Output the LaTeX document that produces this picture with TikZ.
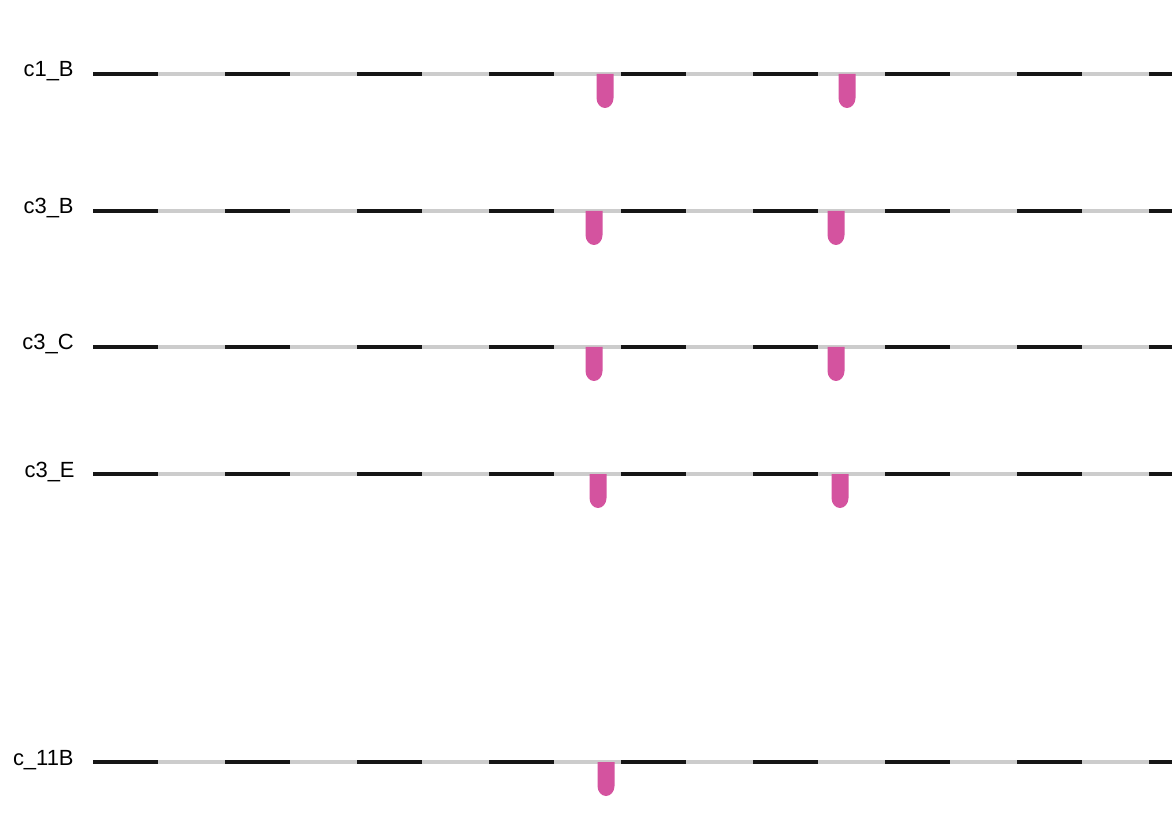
\documentclass[tikz,border=0pt]{standalone}
\usepackage{fontspec}
\setmainfont{Liberation Sans}
\definecolor{blockblack}{HTML}{161616}
\definecolor{backbonegray}{HTML}{CCCCCC}
\definecolor{sitepink}{HTML}{D4539F}
\tikzset{
  rowlabel/.style={
    anchor=base east,
    inner sep=0pt,
    text=black,
    font=\fontsize{12.5}{15}\selectfont,
  },
  backbone/.style={
    draw=backbonegray,
    line width=1.8pt,
  },
  block/.style={
    draw=blockblack,
    line width=2.2pt,
  },
  site/.style={
    fill=sitepink,
  },
}

\begin{document}
\begin{tikzpicture}[x=0.02cm,y=-0.02cm]
  \useasboundingbox (0,0) rectangle (1172,820);

  % Row labels.
  \node[rowlabel] (lc1B)  at (74, 77) {c1\_B};
  \node[rowlabel] (lc3B)  at (74,214) {c3\_B};
  \node[rowlabel] (lc3C)  at (74,350) {c3\_C};
  \node[rowlabel] (lc3E)  at (75,477) {c3\_E};
  \node[rowlabel] (lc11B) at (74,765) {c\_11B};

  % Tracks: grey backbone with regular black blocks.
  \foreach \y/\row in {74/c1B,211/c3B,347/c3C,474/c3E,762/c11B}{
    \coordinate (\row-start) at (93,\y);
    \coordinate (\row-end) at (1172,\y);
    \draw[backbone] (\row-start) -- (\row-end);
    \foreach \i in {0,...,8}{
      \pgfmathsetmacro{\bx}{93+132*\i}
      \pgfmathsetmacro{\ex}{min(\bx+65,1172)}
      \draw[block] (\bx,\y) -- (\ex,\y);
    }
  }

  % Sites hanging below each track.
  \foreach \y/\sites in {74/{605,847},211/{594,836},347/{594,836},474/{598,840},762/{606}}{
    \foreach \mx in \sites{
      \fill[site] (\mx-8.5,\y) -- (\mx-8.5,\y+24)
        arc[start angle=180,end angle=0,x radius=8.5,y radius=10] -- (\mx+8.5,\y) -- cycle;
    }
  }
\end{tikzpicture}
\end{document}
